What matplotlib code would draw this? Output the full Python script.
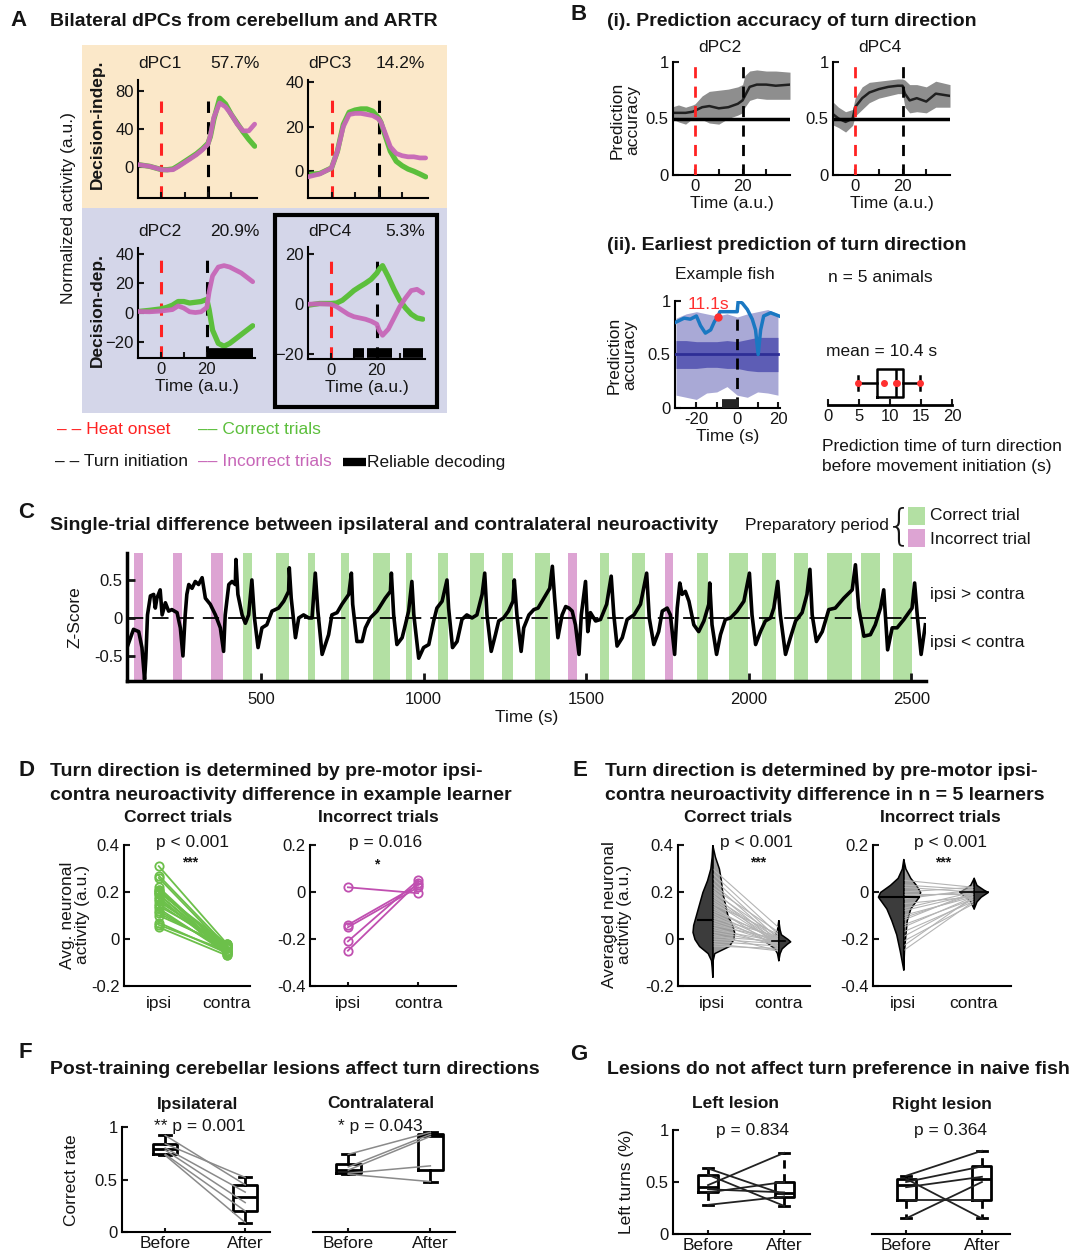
import numpy as np
import matplotlib
matplotlib.use('Agg')
import matplotlib.pyplot as plt
from matplotlib.patches import Rectangle
from matplotlib.lines import Line2D

plt.rcParams['font.family'] = ['Liberation Sans', 'DejaVu Sans']
plt.rcParams['axes.linewidth'] = 1.5

# ---------------- DATA ----------------
# Panel A (dPCs), time in a.u.
a_time = [-10, -5, 0, 2.5, 5, 7.5, 10, 12.5, 15, 17.5, 20, 21, 22.5, 25, 27.5, 30, 32.5, 35, 37.5, 40]
dpc1_correct = [2.8, 1, -2.4, -2.5, -1.7, 2, 6, 10, 14, 19, 25, 32, 50, 72, 66, 55, 46, 37, 29, 22]
dpc1_incorrect = [2.8, 1, -2.4, -2.8, -2.5, 1, 5, 9, 13, 18, 24, 33, 52, 67, 63, 55, 45, 38, 38, 45]
dpc3_correct = [-1.5, -1, 1.5, 9, 21, 26.5, 27.5, 28, 28, 27, 24, 22, 17, 9, 4.5, 2.5, 1, 0, -1.2, -2.5]
dpc3_incorrect = [-2.5, -1.2, 1.5, 9, 20, 25.5, 26, 26, 25.5, 25, 23.5, 22, 18, 11, 8, 7, 6.5, 6.5, 6, 6]
dpc2_correct = [0.7, 1.5, 2.5, 3.5, 5, 7.5, 7.5, 6.5, 7, 7.5, 9, 2, -12, -21, -23, -21, -18, -15, -12, -9]
dpc2_incorrect = [0.7, 0.5, 1, 1.5, 2, 4.5, 3, 0.5, 0, 0.5, 3.5, 14, 25, 31, 32, 31, 29, 27, 24, 21]
dpc4_correct = [-0.4, 0.3, 0.3, 0.5, 1.6, 3.5, 5.5, 7, 8.4, 10, 12.5, 14, 15.5, 11, 6, 1.6, -1.5, -4, -5.5, -6]
dpc4_incorrect = [0, 0.2, 0, -1, -2.5, -4, -5, -5.5, -6, -6.8, -8, -10.5, -12.5, -10, -5.5, -1, 2.5, 5.5, 6, 4.5]
dpc_names = ['dPC1', 'dPC3', 'dPC2', 'dPC4']
dpc_var = ['57.7%', '14.2%', '20.9%', '5.3%']
dpc2_decode = [(20, 40)]
dpc4_decode = [(9.5, 14.5), (15.7, 26.4), (31.5, 40)]

# Panel B(i)
b_time = [-10, -7, -4, -1, 0, 3, 6, 10, 14, 18, 20, 21, 23, 26, 30, 34, 40]
b2_mean = [0.55, 0.55, 0.55, 0.56, 0.57, 0.60, 0.61, 0.59, 0.60, 0.63, 0.66, 0.70, 0.78, 0.80, 0.80, 0.79, 0.80]
b2_low = [0.50, 0.47, 0.45, 0.50, 0.50, 0.49, 0.46, 0.45, 0.50, 0.53, 0.55, 0.60, 0.66, 0.68, 0.67, 0.67, 0.67]
b2_high = [0.60, 0.62, 0.60, 0.62, 0.63, 0.70, 0.74, 0.75, 0.76, 0.78, 0.80, 0.88, 0.92, 0.93, 0.92, 0.92, 0.91]
b4_mean = [0.55, 0.50, 0.47, 0.50, 0.60, 0.68, 0.73, 0.76, 0.78, 0.79, 0.79, 0.72, 0.66, 0.68, 0.65, 0.72, 0.70]
b4_low = [0.45, 0.42, 0.38, 0.44, 0.52, 0.58, 0.64, 0.68, 0.70, 0.72, 0.72, 0.60, 0.55, 0.56, 0.55, 0.60, 0.60]
b4_high = [0.66, 0.60, 0.56, 0.58, 0.68, 0.78, 0.82, 0.83, 0.84, 0.85, 0.85, 0.84, 0.80, 0.80, 0.78, 0.83, 0.80]

# Panel B(ii) example fish
bf_time = [-30, -25, -20, -15, -10, -5, 0, 5, 10, 15, 20]
bf_outer_high = [0.84, 0.88, 0.90, 0.88, 0.86, 0.88, 0.85, 0.88, 0.90, 0.92, 0.88]
bf_outer_low = [0.12, 0.10, 0.08, 0.14, 0.15, 0.20, 0.12, 0.10, 0.15, 0.14, 0.12]
bf_inner_high = [0.63, 0.63, 0.62, 0.62, 0.62, 0.63, 0.62, 0.64, 0.66, 0.66, 0.66]
bf_inner_low = [0.37, 0.37, 0.37, 0.38, 0.38, 0.37, 0.37, 0.35, 0.34, 0.34, 0.34]
bf_chance = [0.5] * 11
fish_time = [-30.3, -26, -23, -20, -18, -15.6, -13, -11.1, -9.5, -8.5, 0, 0.5, 2.5, 5, 7.4, 9, 10.3, 11.5, 13, 16.4, 20.5]
fish_acc = [0.80, 0.84, 0.83, 0.86, 0.77, 0.70, 0.73, 0.81, 0.85, 0.90, 0.90, 1.00, 0.98, 0.92, 0.83, 0.73, 0.50, 0.73, 0.86, 0.89, 0.86]
fish_first = (-9.5, 0.85)
fish_decode = (-7.4, 1.0)
pred_times = [4.8, 9.0, 10.9, 11.1, 14.8]

# Panel C
c_time = [88,108,124,134,142,146,151,160,170,175,180,190,196,206,216,226,242,252,260,267,272,278,288,298,308,319,329,344,360,375,385,390,401,411,421,423,429,442,452,462,472,480,491,503,518,534,554,570,585,587,593,606,616,631,647,657,667,675,688,708,718,734,749,770,778,782,795,811,821,836,857,882,898,901,908,918,934,944,954,964,970,985,1000,1016,1031,1041,1057,1072,1077,1089,1103,1118,1133,1149,1164,1180,1188,1195,1208,1221,1231,1246,1261,1275,1279,1287,1300,1308,1324,1339,1352,1370,1388,1396,1403,1413,1426,1437,1447,1457,1467,1478,1485,1498,1505,1513,1529,1544,1563,1577,1585,1595,1611,1626,1647,1667,1686,1694,1708,1723,1734,1749,1759,1772,1780,1788,1795,1805,1816,1831,1846,1862,1877,1880,1887,1901,1913,1928,1944,1964,1985,2002,2010,2021,2036,2051,2067,2077,2089,2097,2113,2128,2144,2164,2179,2188,2195,2208,2226,2246,2266,2292,2318,2328,2338,2354,2374,2389,2405,2415,2420,2427,2441,2456,2477,2502,2510,2518,2530,2543]
c_z = [-0.39,-0.15,-0.18,-0.39,-0.81,-0.53,0.04,0.29,0.31,0.13,0.26,0.37,0.04,0.20,0.09,0.11,0.07,-0.13,-0.50,0.04,0.31,0.44,0.39,0.48,0.44,0.53,0.26,0.18,0.04,-0.13,-0.44,0.04,0.44,0.48,0.44,0.77,0.31,0.04,-0.07,0.04,0.50,0.00,-0.39,-0.13,-0.09,0.09,0.13,0.22,0.35,0.66,0.26,-0.26,0.00,0.04,0.00,0.00,0.59,0.09,-0.48,-0.22,0.04,0.07,0.18,0.31,0.59,0.18,-0.31,-0.31,-0.13,0.00,0.09,0.26,0.35,0.59,0.04,-0.35,-0.26,-0.09,0.09,0.48,0.04,-0.53,-0.39,-0.35,-0.04,0.13,0.22,0.50,0.13,-0.39,-0.31,-0.02,0.04,0.00,0.04,0.31,0.59,0.04,-0.44,-0.22,-0.04,0.00,0.09,0.22,0.50,0.04,-0.44,-0.13,0.04,0.11,0.13,0.26,0.39,0.68,0.26,-0.26,0.04,0.15,0.13,0.09,-0.09,-0.48,0.04,0.48,-0.18,0.07,-0.04,-0.02,0.18,0.55,0.04,-0.37,-0.26,-0.02,0.04,0.18,0.59,0.00,-0.35,-0.18,0.09,0.13,0.04,-0.48,0.13,0.46,0.31,0.35,0.22,-0.09,-0.18,-0.04,0.18,0.46,-0.09,-0.48,-0.22,-0.02,0.00,0.09,0.22,0.59,0.04,-0.35,-0.18,-0.04,0.00,0.13,0.48,0.04,-0.48,-0.26,-0.04,0.07,0.31,0.64,0.04,-0.31,-0.18,0.11,0.13,0.26,0.37,0.70,0.13,-0.24,-0.22,-0.09,0.13,0.37,0.04,-0.42,-0.13,-0.13,-0.02,0.13,0.46,0.04,-0.48,-0.09]
c_correct_bands = [(446,472),(547,587),(646,665),(747,771),(844,897),(946,964),(1044,1075),(1143,1187),(1241,1276),(1343,1389),(1543,1569),(1640,1681),(1840,1874),(1940,1997),(2040,2083),(2139,2181),(2240,2317),(2344,2404),(2443,2501)]
c_incorrect_bands = [(108,136),(228,257),(347,382),(1444,1473),(1741,1767)]

# Panel D
d_corr_ipsi = [0.31, 0.27, 0.26, 0.22, 0.21, 0.21, 0.20, 0.20, 0.19, 0.19, 0.18, 0.17, 0.16, 0.15, 0.14, 0.13, 0.12, 0.11, 0.10, 0.07, 0.06, 0.05]
d_corr_contra = [-0.02, -0.03, -0.04, -0.05, -0.06, -0.04, -0.03, -0.02, -0.05, -0.06, -0.07, -0.05, -0.03, -0.04, -0.02, -0.06, -0.05, -0.04, -0.03, -0.06, -0.05, -0.07]
d_inc_ipsi = [0.02, -0.14, -0.15, -0.21, -0.25]
d_inc_contra = [-0.005, 0.03, 0.02, 0.05, 0.04]

# Panel E (violin density profiles: levels and half-widths)
e_ci_levels = [-0.16, -0.12, -0.09, -0.06, -0.03, 0.0, 0.03, 0.06, 0.10, 0.15, 0.20, 0.25, 0.30, 0.35, 0.40]
e_ci_left = [0, 0.01, 0.02, 0.07, 0.20, 0.27, 0.30, 0.29, 0.25, 0.20, 0.15, 0.08, 0.03, 0.01, 0]
e_ci_right = [0, 0, 0.005, 0.03, 0.25, 0.32, 0.33, 0.30, 0.23, 0.19, 0.15, 0.13, 0.10, 0.04, 0]
e_cc_levels = [-0.09, -0.06, -0.04, -0.02, -0.01, 0.0, 0.02, 0.04, 0.08]
e_cc_left = [0, 0.02, 0.06, 0.15, 0.20, 0.16, 0.05, 0.02, 0]
e_cc_right = [0, 0.02, 0.05, 0.13, 0.18, 0.14, 0.04, 0.02, 0]
e_ii_levels = [-0.33, -0.25, -0.18, -0.12, -0.07, -0.02, 0.0, 0.03, 0.06, 0.10, 0.14]
e_ii_left = [0, 0.05, 0.10, 0.17, 0.24, 0.36, 0.33, 0.19, 0.08, 0.02, 0]
e_ii_right = [0, 0.01, 0.03, 0.05, 0.10, 0.22, 0.24, 0.18, 0.10, 0.03, 0]
e_ic_levels = [-0.07, -0.04, -0.02, 0.0, 0.01, 0.03, 0.06]
e_ic_left = [0, 0.05, 0.12, 0.20, 0.15, 0.05, 0]
e_ic_right = [0, 0.04, 0.10, 0.20, 0.14, 0.04, 0]
e_medians = {'ci': 0.08, 'cc': -0.01, 'ii': -0.02, 'ic': 0.0}
e_corr_ipsi = [0.30, 0.28, 0.26, 0.24, 0.22, 0.21, 0.20, 0.19, 0.18, 0.17, 0.16, 0.15, 0.14, 0.13, 0.12, 0.11, 0.10, 0.09, 0.08, 0.07, 0.06, 0.05, 0.04, 0.03, 0.02, 0.01, 0.0, -0.01, -0.02, -0.03]
e_corr_contra = [0.05, 0.02, 0.0, -0.01, 0.03, -0.02, 0.01, -0.03, 0.0, -0.01, -0.02, 0.02, -0.04, -0.01, 0.0, -0.02, -0.03, 0.01, -0.01, -0.02, 0.0, -0.03, -0.01, -0.02, -0.05, -0.01, -0.02, -0.03, -0.05, -0.04]
e_inc_ipsi = [0.05, 0.03, 0.02, 0.0, -0.01, -0.02, -0.03, -0.05, -0.07, -0.08, -0.10, -0.11, -0.12, -0.14, -0.15, -0.17, -0.19, -0.21, -0.23, -0.25]
e_inc_contra = [0.02, 0.01, 0.0, 0.02, -0.01, 0.0, 0.01, -0.02, 0.0, -0.01, -0.02, -0.01, 0.0, -0.03, -0.02, -0.04, -0.03, -0.05, -0.02, -0.04]

# Panel F
f_ipsi_before = [0.92, 0.84, 0.80, 0.78, 0.74, 0.73]
f_ipsi_after = [0.45, 0.52, 0.38, 0.28, 0.20, 0.09]
f_contra_before = [0.74, 0.62, 0.59, 0.56, 0.55]
f_contra_after = [0.95, 0.93, 0.91, 0.63, 0.48]

# Panel G
g_left_before = [0.63, 0.57, 0.47, 0.43, 0.40, 0.28]
g_left_after = [0.38, 0.27, 0.78, 0.40, 0.50, 0.36]
g_right_before = [0.56, 0.53, 0.50, 0.45, 0.33, 0.15]
g_right_after = [0.80, 0.15, 0.65, 0.55, 0.33, 0.50]

# ---------------- STYLE / HELPERS ----------------
TXT = '#151515'
GREEN = '#5cbf3c'
MAGENTA = '#c766b8'
RED = '#ff2222'
D_GREEN = '#6cc04a'
D_MAG = '#c04fb0'
FS = 12.5      # regular text
FT = 14        # bold panel titles
FL = 16        # panel letters
TS = 12        # tick labels

W, H = 1073, 1260
fig = plt.figure(figsize=(W / 100, H / 100), dpi=100)


def add_ax(x0, y0, x1, y1):
    ax = fig.add_axes([x0 / W, 1 - y1 / H, (x1 - x0) / W, (y1 - y0) / H])
    ax.set_facecolor('none')
    for s in ['top', 'right']:
        ax.spines[s].set_visible(False)
    ax.tick_params(direction='in', length=4, width=1.5, labelsize=TS, colors=TXT, pad=3)
    return ax


def ftext(x, y, s, **kw):
    kw.setdefault('color', TXT)
    kw.setdefault('va', 'center')
    return fig.text(x / W, 1 - y / H, s, **kw)


def fig_rect(x0, y0, x1, y1, **kw):
    r = Rectangle((x0 / W, 1 - y1 / H), (x1 - x0) / W, (y1 - y0) / H, transform=fig.transFigure, **kw)
    fig.add_artist(r)
    return r


def matlab_box(vals):
    v = np.sort(np.asarray(vals, float))
    q1, med, q3 = np.percentile(v, [25, 50, 75], method='hazen')
    return dict(med=med, q1=q1, q3=q3, whislo=v.min(), whishi=v.max(), fliers=[])


# ---------------- PANEL A ----------------
fig_rect(82, 45, 447, 208, facecolor='#fbe8c9', edgecolor='none', zorder=0)
fig_rect(82, 208, 447, 413, facecolor='#d4d6e9', edgecolor='none', zorder=0)
ftext(10, 20, 'A', fontsize=FL, fontweight='bold')
ftext(50, 22, 'Bilateral dPCs from cerebellum and ARTR', fontsize=FT, fontweight='bold')

a_boxes = [(138, 80, 257, 198), (308, 80, 428, 198), (138, 248, 255, 358), (308, 247, 425, 359)]
a_ylims = [(-32, 91), (-12, 41), (-31, 44), (-22, 23)]
a_yticks = [[0, 40, 80], [0, 20, 40], [-20, 0, 20, 40], [-20, 0, 20]]
a_correct = [dpc1_correct, dpc3_correct, dpc2_correct, dpc4_correct]
a_incorrect = [dpc1_incorrect, dpc3_incorrect, dpc2_incorrect, dpc4_incorrect]
a_vtop = [0.82, 0.83, 0.89, 0.95]
a_decode = [[], [], dpc2_decode, dpc4_decode]
title_pos = [(160, 235), (330, 400), (160, 235), (330, 405)]
for i in range(4):
    ax = add_ax(*a_boxes[i])
    ax.set_xlim(-10, 41)
    ax.set_ylim(*a_ylims[i])
    ax.set_yticks(a_yticks[i])
    ax.set_xticks([0, 10, 20, 30])
    if i < 2:
        ax.set_xticklabels([])
    else:
        ax.set_xticklabels(['0', '', '20', ''])
        ax.set_xlabel('Time (a.u.)', fontsize=FS, color=TXT, labelpad=1)
    ax.axvline(0, ymax=a_vtop[i], color=RED, lw=2.2, dashes=(4, 3), zorder=1)
    ax.axvline(20, ymax=a_vtop[i], color='k', lw=2.2, dashes=(4, 3), zorder=1)
    ax.plot(a_time, a_correct[i], color=GREEN, lw=3.8, zorder=2, solid_capstyle='round')
    ax.plot(a_time, a_incorrect[i], color=MAGENTA, lw=3.4, alpha=0.95, zorder=3, solid_capstyle='round')
    ylo = a_ylims[i][0]
    yhi = a_ylims[i][1]
    for (s, e) in a_decode[i]:
        ax.plot([s, e], [ylo + 0.05 * (yhi - ylo)] * 2, color='k', lw=7, solid_capstyle='butt', zorder=4)
    tx, vx = title_pos[i]
    ytitle = a_boxes[i][1] - 16
    ftext(tx, ytitle, dpc_names[i], fontsize=FS, ha='center')
    ftext(vx, ytitle, dpc_var[i], fontsize=FS, ha='center')

fig_rect(275, 215, 437, 407, facecolor='none', edgecolor='k', lw=3, zorder=5)
ftext(97, 124, 'Decision-indep.', fontsize=FS, fontweight='bold', rotation=90, ha='center')
ftext(97, 310, 'Decision-dep.', fontsize=FS, fontweight='bold', rotation=90, ha='center')
ftext(68, 208, 'Normalized activity (a.u.)', fontsize=FS, rotation=90, ha='center')

# legend of A
ftext(57, 430, '– – Heat onset', fontsize=FS, color=RED)
ftext(198, 430, '–– Correct trials', fontsize=FS, color=GREEN)
ftext(55, 462, '– – Turn initiation', fontsize=FS, color=TXT)
ftext(198, 462, '–– Incorrect trials', fontsize=FS, color=MAGENTA)
fig.add_artist(Line2D([343 / W, 366 / W], [1 - 462 / H] * 2, color='k', lw=6, transform=fig.transFigure, solid_capstyle='butt'))
ftext(367, 462, 'Reliable decoding', fontsize=FS)

# ---------------- PANEL B(i) ----------------
ftext(570, 15, 'B', fontsize=FL, fontweight='bold')
ftext(607, 22, '(i). Prediction accuracy of turn direction', fontsize=FT, fontweight='bold')
b_sets = [(673, 'dPC2', b2_mean, b2_low, b2_high, 720), (833, 'dPC4', b4_mean, b4_low, b4_high, 880)]
for x0, name, m, lo, hi, tx in b_sets:
    ax = add_ax(x0, 62, x0 + 117, 175)
    ax.set_xlim(-9.3, 40)
    ax.set_ylim(0, 1)
    ax.set_yticks([0, 0.5, 1])
    ax.set_yticklabels(['0', '0.5', '1'])
    ax.set_xticks([0, 10, 20, 30])
    ax.set_xticklabels(['0', '', '20', ''])
    ax.fill_between(b_time, lo, hi, color='#7a7a7a', alpha=0.85, lw=0, zorder=1)
    ax.plot(b_time, m, color='#202020', lw=1.8, zorder=2)
    ax.axhline(0.5, color='k', lw=2.5, zorder=3)
    ax.axvline(0, color=RED, lw=2, dashes=(4, 3), zorder=4)
    ax.axvline(20, color='k', lw=2, dashes=(4, 3), zorder=4)
    ax.set_xlabel('Time (a.u.)', fontsize=FS, color=TXT, labelpad=1)
    ftext(tx, 48, name, fontsize=FS, ha='center')
ftext(625, 120, 'Prediction\naccuracy', fontsize=FS, rotation=90, ha='center', linespacing=1.0)

# ---------------- PANEL B(ii) ----------------
ftext(607, 246, '(ii). Earliest prediction of turn direction', fontsize=FT, fontweight='bold')
ax = add_ax(675, 301, 780, 408)
ax.set_xlim(-30.5, 21)
ax.set_ylim(0, 1.0)
ax.set_yticks([0, 0.5, 1])
ax.set_yticklabels(['0', '0.5', '1'])
ax.set_xticks([-20, -10, 0, 10, 20])
ax.set_xticklabels(['-20', '', '0', '', '20'])
ax.fill_between(bf_time, bf_outer_low, bf_outer_high, color='#a9a9d6', lw=0, zorder=1)
ax.fill_between(bf_time, bf_inner_low, bf_inner_high, color='#5d5db5', lw=0, zorder=2)
ax.plot(bf_time, bf_chance, color='#2e2e96', lw=2, zorder=3)
ax.plot(fish_time, fish_acc, color='#1a78c2', lw=2.5, zorder=5)
ax.axvline(0, ymax=0.93, color='k', lw=2, dashes=(4, 3), zorder=4)
ax.plot(*fish_first, 'o', color='#ff3030', ms=5, zorder=6)
ax.text(fish_first[0] - 4.5, 0.965, '11.1s', color='#ff3030', fontsize=FS, ha='center', va='center', zorder=7)
ax.plot(list(fish_decode), [0.04, 0.04], color='#222222', lw=7, solid_capstyle='butt', zorder=6)
ax.set_xlabel('Time (s)', fontsize=FS, color=TXT, labelpad=1)
ftext(725, 275, 'Example fish', fontsize=FS, ha='center')
ftext(622, 355, 'Prediction\naccuracy', fontsize=FS, rotation=90, ha='center', linespacing=1.0)
ftext(880, 277, 'n = 5 animals', fontsize=FS, ha='center')
ftext(882, 351, 'mean = 10.4 s', fontsize=FS, ha='center')

ax = add_ax(828, 361, 952, 405)
ax.spines['left'].set_visible(False)
ax.set_yticks([])
ax.set_xlim(0, 20)
ax.set_ylim(0, 1)
ax.set_xticks([0, 5, 10, 15, 20])
ax.spines['bottom'].set_linewidth(2)
ax.bxp([matlab_box(pred_times)], positions=[0.5], widths=0.62, vert=False, showfliers=False,
       boxprops=dict(color='k', lw=1.8), medianprops=dict(color='k', lw=1.8),
       whiskerprops=dict(color='k', lw=1.8), capprops=dict(color='k', lw=1.8), manage_ticks=False)
ax.plot(pred_times, [0.5] * len(pred_times), 'o', color='#ff3030', ms=4, zorder=5)
ax.set_ylim(0, 1)
ftext(822, 446, 'Prediction time of turn direction', fontsize=FS)
ftext(822, 467, 'before movement initiation (s)', fontsize=FS)

# ---------------- PANEL C ----------------
ftext(18, 513, 'C', fontsize=FL, fontweight='bold')
ftext(50, 525, 'Single-trial difference between ipsilateral and contralateral neuroactivity', fontsize=FT, fontweight='bold')
ftext(745, 525, 'Preparatory period', fontsize=FS)
ftext(899, 527, '{', fontsize=30, ha='center', fontweight='light', family='DejaVu Sans')
fig_rect(908, 507, 925, 525, facecolor='#b3e0a3', edgecolor='none')
fig_rect(908, 529, 925, 547, facecolor='#dda4d3', edgecolor='none')
ftext(930, 516, 'Correct trial', fontsize=FS)
ftext(930, 539, 'Incorrect trial', fontsize=FS)

ax = add_ax(127, 553, 926, 681)
ax.set_xlim(88, 2545)
ax.set_ylim(-0.83, 0.855)
for s, e in c_correct_bands:
    ax.axvspan(s, e, color='#b3e0a3', lw=0, zorder=0)
for s, e in c_incorrect_bands:
    ax.axvspan(s, e, color='#dda4d3', lw=0, zorder=0)
ax.axhline(0, color='k', lw=1.3, dashes=(9, 5), zorder=1)
n = min(len(c_time), len(c_z))
ax.plot(c_time[:n], c_z[:n], color='k', lw=2.6, zorder=2)
ax.set_xticks([500, 1000, 1500, 2000, 2500])
ax.set_yticks([-0.5, 0, 0.5])
ax.set_yticklabels(['-0.5', '0', '0.5'])
ax.tick_params(length=6, width=2)
ax.tick_params(axis='x', pad=8)
ax.spines['bottom'].set_linewidth(2.5)
ax.spines['left'].set_linewidth(2.5)
ax.set_xlabel('Time (s)', fontsize=FS, color=TXT, labelpad=2)
ftext(75, 617, 'Z-Score', fontsize=FS, rotation=90, ha='center')
ftext(930, 595, 'ipsi > contra', fontsize=FS)
ftext(930, 643, 'ipsi < contra', fontsize=FS)

# ---------------- PANEL D ----------------
ftext(18, 770, 'D', fontsize=FL, fontweight='bold')
ftext(50, 771, 'Turn direction is determined by pre-motor ipsi-', fontsize=FT, fontweight='bold')
ftext(50, 795, 'contra neuroactivity difference in example learner', fontsize=FT, fontweight='bold')

ax = add_ax(124, 845, 250, 986)
ax.set_xlim(0.49, 2.34)
ax.set_ylim(-0.2, 0.4)
ax.set_yticks([-0.2, 0, 0.2, 0.4])
ax.set_yticklabels(['-0.2', '0', '0.2', '0.4'])
ax.set_xticks([1, 2])
ax.set_xticklabels(['ipsi', 'contra'])
ax.tick_params(axis='x', length=0, labelsize=FS, pad=7)
for a, b in zip(d_corr_ipsi, d_corr_contra):
    ax.plot([1, 2], [a, b], '-o', color=D_GREEN, lw=1.3, ms=6, mfc='none', mew=1.3)
ftext(178, 818, 'Correct trials', fontsize=FS, fontweight='bold', ha='center')
ftext(192, 843, 'p < 0.001', fontsize=FS, ha='center')
ftext(190, 862, '***', fontsize=10, ha='center', fontweight='bold')

ax = add_ax(310, 845, 456, 986)
ax.set_xlim(0.46, 2.54)
ax.set_ylim(-0.4, 0.2)
ax.set_yticks([-0.4, -0.2, 0, 0.2])
ax.set_yticklabels(['-0.4', '-0.2', '0', '0.2'])
ax.set_xticks([1, 2])
ax.set_xticklabels(['ipsi', 'contra'])
ax.tick_params(axis='x', length=3, labelsize=FS, pad=7)
for a, b in zip(d_inc_ipsi, d_inc_contra):
    ax.plot([1, 2], [a, b], '-o', color=D_MAG, lw=1.3, ms=6, mfc='none', mew=1.3)
ftext(378, 818, 'Incorrect trials', fontsize=FS, fontweight='bold', ha='center')
ftext(386, 843, 'p = 0.016', fontsize=FS, ha='center')
ftext(377, 864, '*', fontsize=10, ha='center', fontweight='bold')
ftext(75, 915, 'Avg. neuronal\nactivity (a.u.)', fontsize=FS, rotation=90, ha='center', linespacing=1.0)

# ---------------- PANEL E ----------------
ftext(573, 770, 'E', fontsize=FL, fontweight='bold')
ftext(605, 771, 'Turn direction is determined by pre-motor ipsi-', fontsize=FT, fontweight='bold')
ftext(605, 795, 'contra neuroactivity difference in n = 5 learners', fontsize=FT, fontweight='bold')


def half_violin(ax, x, levels, widths, side, color, z):
    lv = np.asarray(levels, float)
    wd = np.asarray(widths, float)
    if side == 'left':
        ax.fill_betweenx(lv, x - wd, x, facecolor=color, edgecolor='k', lw=1.1, zorder=z)
    else:
        ax.fill_betweenx(lv, x, x + wd, facecolor=color, edgecolor='k', lw=1.1, zorder=z)


DARK = '#3c3c3c'
LIGHT = '#9c9c9c'
ax = add_ax(678, 845, 810, 986)
ax.set_xlim(0.48, 2.48)
ax.set_ylim(-0.2, 0.4)
ax.set_yticks([-0.2, 0, 0.2, 0.4])
ax.set_yticklabels(['-0.2', '0', '0.2', '0.4'])
ax.set_xticks([1, 2])
ax.set_xticklabels(['ipsi', 'contra'])
ax.tick_params(axis='x', length=0, labelsize=FS, pad=7)
half_violin(ax, 1, e_ci_levels, e_ci_left, 'left', DARK, 2)
half_violin(ax, 1, e_ci_levels, e_ci_right, 'right', LIGHT, 1)
half_violin(ax, 2, e_cc_levels, e_cc_left, 'left', LIGHT, 1)
half_violin(ax, 2, e_cc_levels, e_cc_right, 'right', DARK, 2)
for a, b in zip(e_corr_ipsi, e_corr_contra):
    ax.plot([1, 2], [a, b], color='#b4b4b4', lw=0.8, zorder=1.5)
ax.plot([1 - 0.22, 1], [e_medians['ci']] * 2, color='k', lw=1.5, zorder=3)
ax.plot([1.9, 2.1], [e_medians['cc']] * 2, color='k', lw=1.2, zorder=3)
ftext(738, 818, 'Correct trials', fontsize=FS, fontweight='bold', ha='center')
ftext(756, 843, 'p < 0.001', fontsize=FS, ha='center')
ftext(758, 862, '***', fontsize=10, ha='center', fontweight='bold')

ax = add_ax(873, 845, 1011, 986)
ax.set_xlim(0.57, 2.53)
ax.set_ylim(-0.4, 0.2)
ax.set_yticks([-0.4, -0.2, 0, 0.2])
ax.set_yticklabels(['-0.4', '-0.2', '0', '0.2'])
ax.set_xticks([1, 2])
ax.set_xticklabels(['ipsi', 'contra'])
ax.tick_params(axis='x', length=0, labelsize=FS, pad=7)
half_violin(ax, 1, e_ii_levels, e_ii_left, 'left', DARK, 2)
half_violin(ax, 1, e_ii_levels, e_ii_right, 'right', LIGHT, 1)
half_violin(ax, 2, e_ic_levels, e_ic_left, 'left', LIGHT, 1)
half_violin(ax, 2, e_ic_levels, e_ic_right, 'right', DARK, 2)
for a, b in zip(e_inc_ipsi, e_inc_contra):
    ax.plot([1, 2], [a, b], color='#b4b4b4', lw=0.8, zorder=1.5)
ax.plot([1 - 0.33, 1 + 0.22], [e_medians['ii']] * 2, color='k', lw=1.5, zorder=3)
ax.plot([2 - 0.2, 2 + 0.2], [e_medians['ic']] * 2, color='k', lw=1.2, zorder=3)
ftext(940, 818, 'Incorrect trials', fontsize=FS, fontweight='bold', ha='center')
ftext(950, 843, 'p < 0.001', fontsize=FS, ha='center')
ftext(943, 862, '***', fontsize=10, ha='center', fontweight='bold')
ftext(617, 915, 'Averaged neuronal\nactivity (a.u.)', fontsize=FS, rotation=90, ha='center', linespacing=1.0)


# ---------------- PANEL F / G ----------------
def paired_box(ax, before, after, line_color, line_w, dashed_whisk, width):
    for a, b in zip(before, after):
        ax.plot([1, 2], [a, b], color=line_color, lw=line_w, zorder=3)
    ls = (0, (3, 2)) if dashed_whisk else '-'
    ax.bxp([matlab_box(before), matlab_box(after)], positions=[1, 2], widths=width, showfliers=False,
           boxprops=dict(color='k', lw=2), medianprops=dict(color='k', lw=2),
           whiskerprops=dict(color='k', lw=2, linestyle=ls), capprops=dict(color='k', lw=2),
           manage_ticks=False, zorder=2)
    ax.set_xticks([1, 2])
    ax.set_xticklabels(['Before', 'After'])
    ax.tick_params(axis='x', length=3, labelsize=FS, pad=3)


ftext(18, 1052, 'F', fontsize=FL, fontweight='bold')
ftext(50, 1069, 'Post-training cerebellar lesions affect turn directions', fontsize=FT, fontweight='bold')
ax = add_ax(122, 1127, 270, 1232)
ax.set_xlim(0.46, 2.31)
ax.set_ylim(0, 1)
ax.set_yticks([0, 0.5, 1])
ax.set_yticklabels(['0', '0.5', '1'])
paired_box(ax, f_ipsi_before, f_ipsi_after, '#8a8a8a', 1.1, False, 0.3)
ax = add_ax(313, 1127, 455, 1232)
ax.set_xlim(0.57, 2.3)
ax.set_ylim(0, 1)
ax.spines['left'].set_visible(False)
ax.set_yticks([])
paired_box(ax, f_contra_before, f_contra_after, '#8a8a8a', 1.1, False, 0.3)
ftext(198, 1104, 'Ipsilateral', fontsize=FS, fontweight='bold', ha='center')
ftext(200, 1126, '** p = 0.001', fontsize=FS, ha='center')
ftext(381, 1104, 'Contralateral', fontsize=FS, fontweight='bold', ha='center')
ftext(380, 1126, '* p = 0.043', fontsize=FS, ha='center')
ftext(72, 1180, 'Correct rate', fontsize=FS, rotation=90, ha='center')

ftext(570, 1055, 'G', fontsize=FL, fontweight='bold')
ftext(607, 1069, 'Lesions do not affect turn preference in naive fish', fontsize=FT, fontweight='bold')
ax = add_ax(673, 1130, 810, 1234)
ax.set_xlim(0.54, 2.34)
ax.set_ylim(0, 1)
ax.set_yticks([0, 0.5, 1])
ax.set_yticklabels(['0', '0.5', '1'])
paired_box(ax, g_left_before, g_left_after, '#222222', 1.3, True, 0.25)
ax = add_ax(872, 1130, 1010, 1234)
ax.set_xlim(0.55, 2.37)
ax.set_ylim(0, 1)
ax.spines['left'].set_visible(False)
ax.set_yticks([])
paired_box(ax, g_right_before, g_right_after, '#222222', 1.3, True, 0.25)
ftext(735, 1104, 'Left lesion', fontsize=FS, fontweight='bold', ha='center')
ftext(752, 1131, 'p = 0.834', fontsize=FS, ha='center')
ftext(942, 1104, 'Right lesion', fontsize=FS, fontweight='bold', ha='center')
ftext(950, 1131, 'p = 0.364', fontsize=FS, ha='center')
ftext(627, 1182, 'Left turns (%)', fontsize=FS, rotation=90, ha='center')

fig.savefig('out.png', dpi=100)
